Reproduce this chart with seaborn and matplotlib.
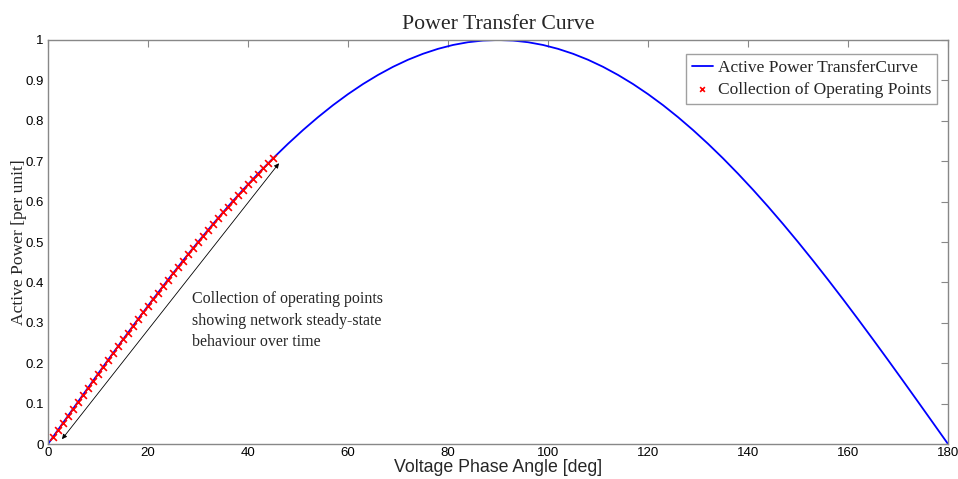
import matplotlib
matplotlib.use("Agg")
import matplotlib.pyplot as plt
import seaborn as sns
import pandas as pd

# Curve samples (angle in degrees, power in per unit)
curve_angle = list(range(0, 181, 3))
curve_half = [0.0, 0.0523, 0.1045, 0.1564, 0.2079, 0.2588, 0.3090, 0.3584, 0.4067,
              0.4540, 0.5, 0.5446, 0.5878, 0.6293, 0.6691, 0.7071, 0.7431, 0.7771,
              0.8090, 0.8387, 0.8660, 0.8910, 0.9135, 0.9336, 0.9511, 0.9659, 0.9781,
              0.9877, 0.9945, 0.9986, 1.0]
curve_power = curve_half + curve_half[-2::-1]

# Operating points
op_angle = list(range(1, 46))
op_power = [0.0175, 0.0349, 0.0523, 0.0698, 0.0872, 0.1045, 0.1219, 0.1392, 0.1564,
            0.1736, 0.1908, 0.2079, 0.2250, 0.2419, 0.2588, 0.2756, 0.2924, 0.3090,
            0.3256, 0.3420, 0.3584, 0.3746, 0.3907, 0.4067, 0.4226, 0.4384, 0.4540,
            0.4695, 0.4848, 0.5, 0.5150, 0.5299, 0.5446, 0.5592, 0.5736, 0.5878,
            0.6018, 0.6157, 0.6293, 0.6428, 0.6561, 0.6691, 0.6820, 0.6947, 0.7071]

x_ticks = [0, 20, 40, 60, 80, 100, 120, 140, 160, 180]
y_ticks = [0, 0.1, 0.2, 0.3, 0.4, 0.5, 0.6, 0.7, 0.8, 0.9, 1]
y_tick_labels = ["0", "0.1", "0.2", "0.3", "0.4", "0.5", "0.6", "0.7", "0.8", "0.9", "1"]

sns.set_style("white")
plt.rcParams['font.family'] = ['Liberation Sans', 'DejaVu Sans']

fig = plt.figure(figsize=(9.58, 4.79), dpi=100)
ax = fig.add_axes([0.0501, 0.073, 0.9395, 0.8435])

df_curve = pd.DataFrame({"angle": curve_angle, "power": curve_power})
df_ops = pd.DataFrame({"angle": op_angle, "power": op_power})

sns.lineplot(data=df_curve, x="angle", y="power", ax=ax, color="#0000ff",
             linewidth=1.3, label="Active Power TransferCurve", sort=False)
sns.scatterplot(data=df_ops, x="angle", y="power", ax=ax, color="#ff0000",
                marker="x", s=24, linewidth=1.2, label="Collection of Operating Points",
                zorder=3)

ax.set_xlim(0, 180)
ax.set_ylim(0, 1)
ax.set_xticks(x_ticks)
ax.set_xticklabels([str(t) for t in x_ticks])
ax.set_yticks(y_ticks)
ax.set_yticklabels(y_tick_labels)

for s in ax.spines.values():
    s.set_color("#888888")
    s.set_linewidth(1.0)
ax.tick_params(direction="in", length=5, width=0.8, color="#888888",
               labelsize=9.5, top=True, right=True, pad=3, labelcolor="black")
ax.tick_params(axis="x", pad=2)

ax.set_xlabel("Voltage Phase Angle [deg]", fontsize=12.8, labelpad=0)
ax.set_ylabel("Active Power [per unit]", fontsize=12.6, family=["Liberation Serif"], labelpad=-1)
ax.set_title("Power Transfer Curve", fontsize=15.7, family=["Liberation Serif"], pad=8)

ax.annotate("", xy=(2.8, 0.012), xytext=(46.2, 0.695),
            arrowprops=dict(arrowstyle="<|-|>", color="black", lw=0.6,
                            mutation_scale=7, shrinkA=0, shrinkB=0))
ax.text(28.8, 0.378, "Collection of operating points\nshowing network steady-state\nbehaviour over time",
        fontsize=11.5, family=["Liberation Serif"], va="top", ha="left", linespacing=1.45)

leg = ax.legend(loc="upper right", bbox_to_anchor=(0.988, 0.965), borderaxespad=0,
                prop={"family": "Liberation Serif", "size": 12.5}, frameon=True,
                fancybox=False, handlelength=1.2, handletextpad=0.3,
                borderpad=0.35, labelspacing=0.3, markerscale=0.7)
leg.get_frame().set_edgecolor("#888888")
leg.get_frame().set_linewidth(1.0)

fig.savefig("out.png", dpi=100)
